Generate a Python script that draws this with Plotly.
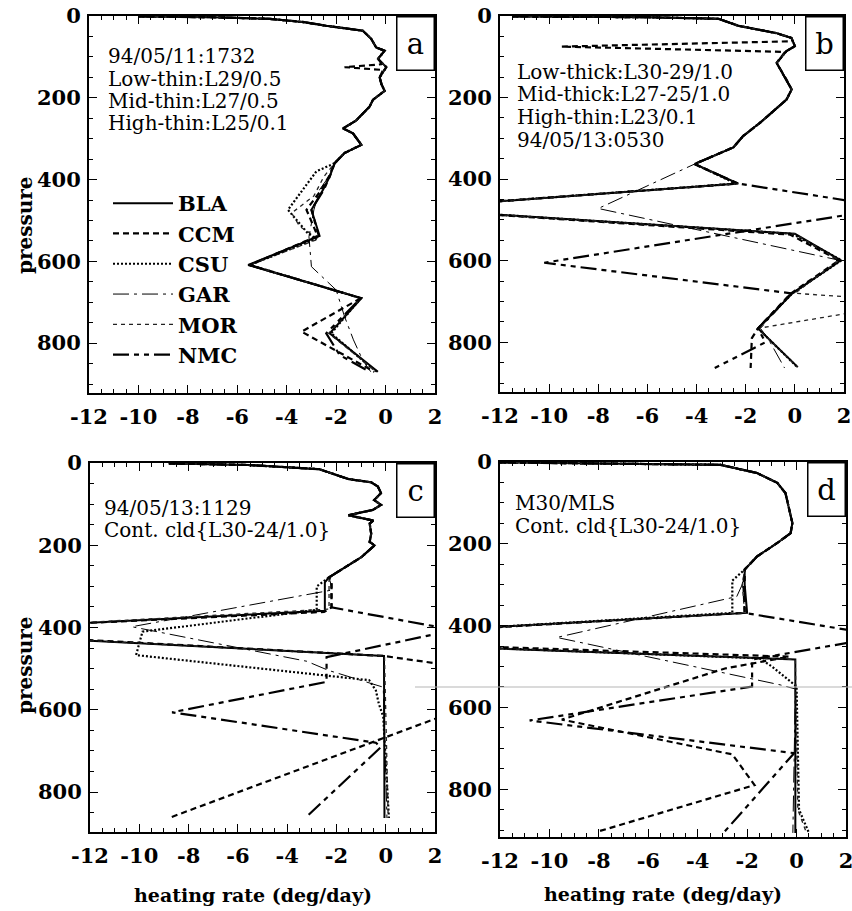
import plotly.graph_objects as go

# ---------------- data (pressure in hPa, heating rate in deg/day) ----------------
MODELS = ["BLA", "CCM", "CSU", "GAR", "MOR", "NMC"]

# panel a
A_TOP_P = [1, 3, 7, 15, 24, 36, 56, 77, 85, 105, 125, 150, 166, 183, 205, 222, 256, 275, 287, 315, 335, 360]
A_TOP_X = [-10.0, -7.0, -4.7, -3.3, -2.4, -0.92, -0.58, -0.38, -0.04, -0.31, 0.03, -0.24, -0.17, -0.04,
           -0.51, -0.65, -1.2, -1.72, -1.32, -0.98, -1.66, -2.06]
A_CCM_SPIKE_P = [118, 125, 132]
A_CCM_SPIKE_X = [-0.15, -1.66, -0.1]
A_BLA_P = [393, 425, 474, 538, 609, 690, 776, 849, 870]
A_BLA_X = [-2.26, -2.53, -3.0, -2.67, -5.56, -0.98, -2.26, -0.78, -0.31]
A_CCM_P = [393, 425, 474, 538, 609, 690, 772, 849, 870]
A_CCM_X = [-2.3, -2.6, -3.2, -2.75, -5.5, -1.0, -3.4, -1.1, -0.45]
A_CSU_P = [380, 474, 531, 545, 609, 690, 776, 849, 870]
A_CSU_X = [-2.8, -3.95, -3.15, -2.8, -5.5, -1.0, -2.2, -0.8, -0.35]
A_GAR_P = [393, 425, 474, 540, 613, 670, 735, 792, 841, 870]
A_GAR_X = [-2.3, -2.67, -2.9, -3.1, -3.0, -2.0, -1.66, -1.3, -0.93, -0.6]
A_MOR_P = [393, 440, 482, 515, 545, 609, 690, 776, 849, 870]
A_MOR_X = [-2.5, -2.9, -3.8, -3.47, -2.7, -5.5, -1.0, -2.3, -0.8, -0.4]
A_NMC_P = [393, 425, 474, 538, 609, 690, 776, 829, 870]
A_NMC_X = [-2.26, -2.5, -3.0, -2.7, -5.5, -1.0, -2.4, -1.86, -0.65]

# panel b
B_TOP_P = [1, 3, 7, 13, 24, 42, 54, 74, 86, 115, 156, 180, 205, 262, 294, 322, 363]
B_TOP_X = [-11.5, -6.0, -3.1, -2.8, -2.3, -0.75, -0.13, 0.0, -0.34, -0.74, -0.34, -0.13, -0.34,
           -1.42, -2.1, -2.5, -4.08]
B_CCM_SPIKE_P = [62, 75, 88]
B_CCM_SPIKE_X = [-0.1, -9.5, -0.4]
B_BLA_P = [411, 472, 534, 599, 680, 766, 790, 861]
B_BLA_X = [-2.3, -16.0, 0.0, 1.87, -0.1, -1.5, -1.1, 0.12]
B_CCM_P = [411, 472, 536, 599, 680, 766, 790, 863]
B_CCM_X = [-2.35, -16.0, -0.2, 1.8, -0.15, -1.5, -1.75, -1.8]
B_CSU_P = [411, 472, 534, 599, 680, 766, 790, 861]
B_CSU_X = [-2.4, -16.0, -0.1, 1.9, -0.1, -1.5, -1.1, 0.1]
B_GAR_P = [472, 600, 680, 766, 790, 863]
B_GAR_X = [-8.0, 1.9, -0.1, -1.4, -1.1, -0.42]
B_MOR_P = [411, 472, 534, 599, 680, 700, 766, 790, 861]
B_MOR_X = [-2.3, -16.0, 0.0, 1.8, 0.0, 5.0, -1.5, -1.1, 0.1]
B_NMC_P = [411, 470, 605, 680, 766, 800, 863]
B_NMC_X = [-2.3, 4.0, -10.2, -0.15, -1.5, -1.2, -3.26]

# panel c
C_TOP_P = [1, 5, 15, 39, 47, 57, 73, 90, 102, 114, 127, 140, 147, 172, 192, 200, 229, 253, 278]
C_TOP_X = [-8.8, -5.5, -2.7, -1.52, -0.59, -0.32, -0.19, -0.47, -0.19, -0.52, -1.52, -0.5, -0.65,
           -0.59, -0.65, -0.45, -0.99, -1.65, -2.3]
C_BLA_P = [290, 359, 410, 469, 863]
C_BLA_X = [-2.47, -2.47, -19.2, -0.07, -0.05]
C_CCM_P = [290, 351, 362, 408, 469, 520, 622, 863]
C_CCM_X = [-2.2, -2.2, -2.5, -19.0, -0.1, 6.0, 2.0, -8.8]
C_CSU_P = [300, 357, 410, 442, 467, 528, 553, 585, 617, 863]
C_CSU_X = [-2.8, -2.8, -9.87, -10.0, -10.13, -0.67, -0.4, -0.28, -0.1, 0.13]
C_GAR_P = [300, 309, 398, 482, 504, 529, 545, 863]
C_GAR_X = [-2.2, -2.2, -10.3, -3.2, -2.33, -0.93, -0.1, 0.05]
C_MOR_P = [290, 355, 410, 469, 863]
C_MOR_X = [-2.3, -2.3, -19.0, -0.05, 0.1]
C_NMC_P = [290, 351, 406, 463, 472, 532, 606, 680, 691, 863]
C_NMC_X = [-2.2, -2.2, 2.8, -1.73, -2.4, -2.4, -8.67, -0.4, -0.2, -3.27]

# panel d
D_TOP_P = [1, 4, 7, 27, 51, 76, 109, 149, 174, 198, 231, 263]
D_TOP_X = [-12.0, -6.0, -3.08, -1.6, -0.78, -0.45, -0.31, -0.17, -0.24, -0.78, -1.6, -2.1]
D_BLA_P = [300, 369, 435, 483, 907]
D_BLA_X = [-2.1, -2.0, -21.5, -0.05, -0.05]
D_CCM_P = [300, 369, 435, 476, 505, 630, 715, 790, 903]
D_CCM_X = [-2.15, -2.1, -21.0, -0.3, -2.9, -9.5, -2.6, -1.7, -8.0]
D_CSU_P = [290, 369, 435, 480, 500, 549, 850, 907]
D_CSU_X = [-2.6, -2.6, -21.0, -1.5, -1.0, 0.0, 0.1, 0.5]
D_GAR_P = [300, 329, 429, 545, 555, 907]
D_GAR_X = [-2.2, -2.42, -9.7, -0.66, -0.05, -0.15]
D_MOR_P = [300, 369, 435, 483, 850, 907]
D_MOR_X = [-2.2, -2.1, -21.5, -0.05, 0.05, 0.4]
D_NMC_P = [300, 369, 426, 483, 549, 632, 712, 903]
D_NMC_X = [-2.1, -2.1, 3.6, -1.8, -1.8, -10.8, -0.1, -2.9]

X_TICKS = [-12, -10, -8, -6, -4, -2, 0, 2]
X_TICKTEXT = ["-12", "-10", "-8", "-6", "-4", "-2", "0", "2"]
Y_TICKS = [0, 200, 400, 600, 800]

PANEL_TEXT = {
    "a": ["94/05/11:1732", "Low-thin:L29/0.5", "Mid-thin:L27/0.5", "High-thin:L25/0.1"],
    "b": ["Low-thick:L30-29/1.0", "Mid-thick:L27-25/1.0", "High-thin:L23/0.1", "94/05/13:0530"],
    "c": ["94/05/13:1129", "Cont. cld{L30-24/1.0}"],
    "d": ["M30/MLS", "Cont. cld{L30-24/1.0}"],
}

# ---------------- helpers ----------------
W, H = 852, 911
SERIF = "DejaVu Serif"


def fx(px):
    return px / W


def fy(py):
    return 1 - py / H


def build(top_p, top_x, low_p, low_x, spike_p=None, spike_x=None):
    pts = [(p, x) for p, x in zip(top_p, top_x) if p < low_p[0]]
    if spike_p:
        lo, hi = min(spike_p), max(spike_p)
        pts = [pt for pt in pts if not (lo <= pt[0] <= hi)] + list(zip(spike_p, spike_x))
        pts.sort()
    pts += list(zip(low_p, low_x))
    return [x for _, x in pts], [p for p, _ in pts]


STYLE = {
    "BLA": dict(width=2.0, dash="solid", color="black"),
    "CCM": dict(width=2.2, dash="6px,4px", color="black"),
    "CSU": dict(width=2.2, dash="2px,2px", color="black"),
    "GAR": dict(width=1.0, dash="16px,5px,3px,5px", color="black"),
    "MOR": dict(width=1.3, dash="4px,4px", color="#222222"),
    "NMC": dict(width=2.2, dash="16px,5px,5px,5px,5px,5px", color="black"),
}

g = globals()
panels = [
    ("a", "x", "y", [922, 0]),
    ("b", "x2", "y2", [922, 0]),
    ("c", "x3", "y3", [897, 0]),
    ("d", "x4", "y4", [917, 0]),
]

fig = go.Figure()
for key, xa, ya, _ in panels:
    K = key.upper()
    for m in MODELS:
        sp = g.get(f"{K}_{m}_SPIKE_P")
        sx = g.get(f"{K}_{m}_SPIKE_X")
        xs, ps = build(g[f"{K}_TOP_P"], g[f"{K}_TOP_X"], g[f"{K}_{m}_P"], g[f"{K}_{m}_X"], sp, sx)
        fig.add_trace(go.Scatter(
            x=xs, y=ps, mode="lines", name=m, line=STYLE[m],
            xaxis=xa, yaxis=ya, showlegend=(key == "a"), hoverinfo="skip",
        ))

# domains in page pixels: (left, right, top, bottom)
DOM = {
    "a": (89, 435, 16, 393),
    "b": (500, 844, 16, 392),
    "c": (90, 435, 463, 832),
    "d": (500, 846, 462, 837),
}

tickfont = dict(family=SERIF, size=21, color="black", weight="bold")
layout_axes = {}
for i, (key, xa, ya, yr) in enumerate(panels):
    l, r, t, b = DOM[key]
    sx = "" if i == 0 else str(i + 1)
    layout_axes["xaxis" + sx] = dict(
        domain=[fx(l), fx(r)], anchor=ya, range=[-12, 2], automargin=False,
        tickmode="array", tickvals=X_TICKS, ticktext=X_TICKTEXT, ticklabeloverflow="allow",
        ticks="inside", ticklen=8, tickwidth=1.2, tickcolor="black",
        minor=dict(tickmode="linear", tick0=-12, dtick=0.5, ticks="inside",
                   ticklen=4, tickwidth=1, tickcolor="black"),
        showline=True, linewidth=2, linecolor="black", mirror="ticks",
        showgrid=False, zeroline=False, tickfont=tickfont, ticklabelstandoff=4,
    )
    layout_axes["yaxis" + sx] = dict(
        domain=[fy(b), fy(t)], anchor=xa, range=yr, automargin=False,
        tickmode="array", tickvals=Y_TICKS, ticklabeloverflow="allow",
        ticks="inside", ticklen=8, tickwidth=1.2, tickcolor="black",
        minor=dict(tickmode="linear", tick0=0, dtick=50, ticks="inside",
                   ticklen=4, tickwidth=1, tickcolor="black"),
        showline=True, linewidth=2, linecolor="black", mirror="ticks",
        showgrid=False, zeroline=False, tickfont=tickfont, ticklabelstandoff=2,
    )

annotations = []
# panel letters in boxes
for i, (key, xa, ya, yr) in enumerate(panels):
    annotations.append(dict(
        text=key, xref=f"{xa} domain", yref=f"{ya} domain", x=1, y=1,
        xanchor="right", yanchor="top", showarrow=False,
        font=dict(family=SERIF, size=29, color="black"),
        bgcolor="white", bordercolor="black", borderwidth=1.5, borderpad=0,
        width=36, height=52,
    ))

# panel text blocks: (left px, [center y px per line])
TEXT_POS = {
    "a": (106, [56, 79, 101, 123]),
    "b": (515, [72, 94, 117, 140]),
    "c": (102, [508, 530]),
    "d": (513, [503, 526]),
}
for key, lines in PANEL_TEXT.items():
    x0, ys = TEXT_POS[key]
    for line, yy in zip(lines, ys):
        annotations.append(dict(
            text=line, xref="paper", yref="paper", x=fx(x0), y=fy(yy),
            xanchor="left", yanchor="middle", showarrow=False,
            font=dict(family=SERIF, size=20, color="black"),
        ))

# axis titles
for (xx, yy) in [(25, 225), (25, 665)]:
    annotations.append(dict(
        text="pressure", xref="paper", yref="paper", x=fx(xx), y=fy(yy),
        xanchor="center", yanchor="middle", textangle=-90, showarrow=False,
        font=dict(family=SERIF, size=20, color="black", weight="bold"),
    ))
for (xx, yy) in [(253, 895), (663, 894)]:
    annotations.append(dict(
        text="heating rate (deg/day)", xref="paper", yref="paper", x=fx(xx), y=fy(yy),
        xanchor="center", yanchor="middle", showarrow=False,
        font=dict(family=SERIF, size=19, color="black", weight="bold"),
    ))

fig.update_layout(
    width=W, height=H,
    margin=dict(l=0, r=0, t=0, b=0, pad=0, autoexpand=False),
    paper_bgcolor="white", plot_bgcolor="white",
    showlegend=True,
    legend=dict(
        x=fx(108), y=fy(183), xanchor="left", yanchor="top",
        bgcolor="rgba(0,0,0,0)", borderwidth=0, itemwidth=60,
        font=dict(family=SERIF, size=21, color="black", weight="bold"),
        tracegroupgap=0,
    ),
    annotations=annotations,
    shapes=[dict(type="line", xref="paper", yref="paper", x0=fx(415), x1=1,
                 y0=fy(687), y1=fy(687), line=dict(color="#b5b5b5", width=1))],
    **layout_axes,
)

fig.write_html(
    "out.html",
    config={"displayModeBar": False},
    post_script="document.body.style.margin='0';document.body.style.padding='0';",
)
